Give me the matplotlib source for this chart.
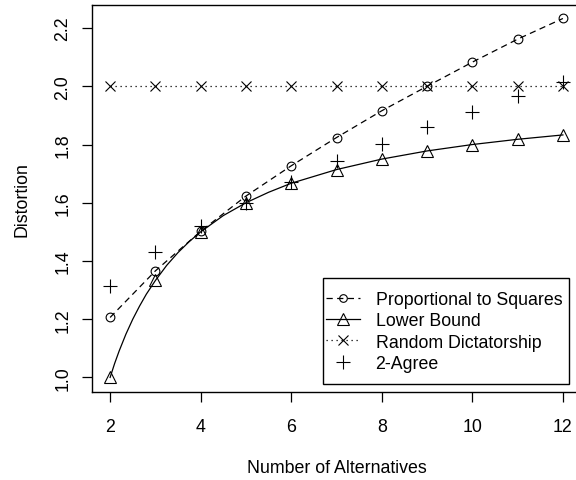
import matplotlib.pyplot as plt
from matplotlib.lines import Line2D
from matplotlib.patches import Rectangle

plt.rcParams['font.family'] = ['Liberation Sans', 'DejaVu Sans']
plt.rcParams['font.size'] = 12.8

# data
alternatives = [2, 3, 4, 5, 6, 7, 8, 9, 10, 11, 12]
prop_squares = [1.206, 1.366, 1.502, 1.623, 1.727, 1.824, 1.916, 2.0, 2.083, 2.162, 2.233]
lower_bound = [1.0, 1.333, 1.5, 1.6, 1.667, 1.714, 1.75, 1.778, 1.8, 1.818, 1.833]
random_dict = [2.0, 2.0, 2.0, 2.0, 2.0, 2.0, 2.0, 2.0, 2.0, 2.0, 2.0]
two_agree = [1.315, 1.43, 1.52, 1.60, 1.673, 1.742, 1.803, 1.861, 1.913, 1.967, 2.015]

# lower bound curve as traced on the picture (it is drawn smooth)
curve_x = [2, 2.1, 2.2, 2.35, 2.5, 2.65, 2.8, 3, 3.25, 3.5, 3.75, 4, 4.5, 5, 5.5, 6,
           7, 8, 9, 10, 11, 12]
curve_y = [1.0, 1.048, 1.091, 1.149, 1.2, 1.245, 1.286, 1.333, 1.385, 1.429, 1.467,
           1.5, 1.556, 1.6, 1.636, 1.667, 1.714, 1.75, 1.778, 1.8, 1.818, 1.833]

fig = plt.figure(figsize=(5.76, 4.81), dpi=100)
ax = fig.add_axes([92 / 576, (481 - 392.7) / 481, (581 - 92) / 576, (392.7 - 5.8) / 481])

dash = (0, (5, 3.5))
dot = (0, (1, 3))

ax.plot(alternatives, prop_squares, color='black', lw=0.9, ls=dash,
        marker='o', mfc='none', ms=6.3, mew=0.8)
ax.plot(curve_x, curve_y, color='black', lw=0.9)
ax.plot(alternatives, lower_bound, ls='none', color='black',
        marker='^', mfc='none', ms=8, mew=0.8)
ax.plot(alternatives, random_dict, color='black', lw=0.9, ls=dot,
        marker='x', ms=6.5, mew=0.8)
ax.plot(alternatives, two_agree, ls='none', color='black',
        marker='+', ms=9.5, mew=0.8)

ax.set_xlim(1.6, 12.4)
ax.set_ylim(0.951, 2.28)
ax.set_xticks([2, 4, 6, 8, 10, 12])
ax.set_yticks([1.0, 1.2, 1.4, 1.6, 1.8, 2.0, 2.2])
ax.set_yticklabels(['1.0', '1.2', '1.4', '1.6', '1.8', '2.0', '2.2'],
                   rotation=90, va='center')
ax.tick_params(length=7, width=0.9)
ax.tick_params(axis='x', pad=12)
ax.tick_params(axis='y', pad=8)
for s in ax.spines.values():
    s.set_linewidth(1.0)

ax.set_xlabel('Number of Alternatives', labelpad=17)
ax.set_ylabel('Distortion', labelpad=17)

# legend box (R style: small side padding, roomy top/bottom)
box = Rectangle((322.7 / 576, (481 - 385) / 481), (569.3 - 322.7) / 576, 106 / 481,
                transform=fig.transFigure, facecolor='white', edgecolor='black',
                lw=1.0, zorder=4)
ax.add_patch(box)

handles = [
    Line2D([], [], color='black', lw=0.9, ls=dash, marker='o', mfc='none', ms=5.5, mew=0.8),
    Line2D([], [], color='black', lw=0.9, marker='^', mfc='none', ms=8, mew=0.8),
    Line2D([], [], color='black', lw=0.9, ls=dot, marker='x', ms=6.5, mew=0.8),
    Line2D([], [], color='black', ls='none', marker='+', ms=9.5, mew=0.8),
]
labels = ['Proportional to Squares', 'Lower Bound', 'Random Dictatorship', '2-Agree']
leg = ax.legend(handles, labels, loc='center',
                bbox_to_anchor=(444 / 576, (481 - 332.5) / 481),
                bbox_transform=fig.transFigure, borderaxespad=0, frameon=False,
                handlelength=1.9, handletextpad=0.9, labelspacing=0.24,
                borderpad=0)
leg.set_zorder(5)

fig.savefig('out.png', dpi=100)
